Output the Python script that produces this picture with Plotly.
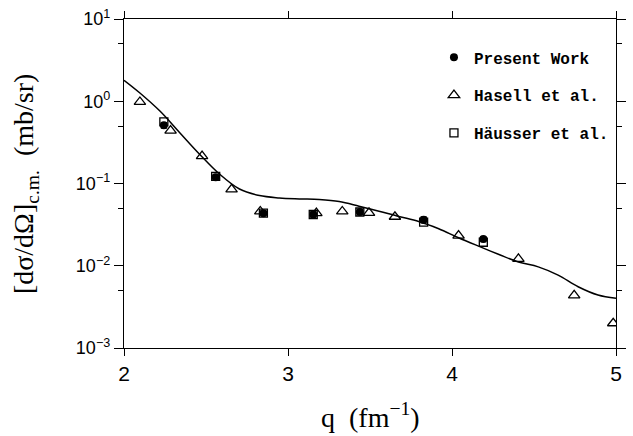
import plotly.graph_objects as go

# ---- data ----
q_present = [2.243, 2.559, 2.850, 3.154, 3.438, 3.827, 4.191]
xs_present = [0.51, 0.119, 0.0436, 0.042, 0.045, 0.0362, 0.0211]
err_present = [0.04, 0.01, 0.003, 0.003, 0.003, 0.003, 0.0015]

q_hasell = [2.097, 2.284, 2.476, 2.656, 2.831, 3.173, 3.331, 3.494, 3.652,
            4.040, 4.405, 4.745, 4.983]
xs_hasell = [0.98, 0.44, 0.215, 0.085, 0.0457, 0.0436, 0.0457, 0.044, 0.0394,
             0.0232, 0.0121, 0.00437, 0.0020]

q_hausser = [2.243, 2.559, 2.850, 3.154, 3.438, 3.827, 4.191]
xs_hausser = [0.56, 0.122, 0.0436, 0.042, 0.045, 0.034, 0.0193]

q_theory = [2.0, 2.097, 2.219, 2.340, 2.461, 2.583, 2.704, 2.826, 2.947, 3.069,
            3.190, 3.312, 3.433, 3.555, 3.676, 3.797, 3.919, 4.040, 4.162,
            4.283, 4.405, 4.526, 4.647, 4.769, 4.890, 5.0]
xs_theory = [1.80, 1.26, 0.76, 0.415, 0.227, 0.130, 0.0857, 0.0713, 0.0668, 0.065,
             0.0638, 0.0603, 0.053, 0.0461, 0.0397, 0.0346, 0.0282, 0.0219, 0.0173,
             0.0138, 0.0111, 0.0097, 0.0077, 0.00556, 0.00441, 0.00402]

x_ticks = [2, 3, 4, 5]
y_tickvals = [0.001, 0.01, 0.1, 1, 10]
y_ticktext = ["10<sup>\u22123</sup>", "10<sup>\u22122</sup>", "10<sup>\u22121</sup>",
              "10<sup>0</sup>", "10<sup>1</sup>"]
y_minor = [0.005, 0.05, 0.5, 5]

legend_names = ["Present Work", "Hasell et al.", "H\u00e4usser et al."]

fig = go.Figure()

fig.add_trace(go.Scatter(
    x=q_theory, y=xs_theory, mode="lines",
    line=dict(color="black", width=1.5, shape="spline", smoothing=1.0),
    showlegend=False, hoverinfo="skip"))

fig.add_trace(go.Scatter(
    x=q_hausser, y=xs_hausser, mode="markers", name=legend_names[2],
    marker=dict(symbol="square-open", size=8, color="black", line=dict(width=1.3)),
    legendgroup="c", legendrank=3))

fig.add_trace(go.Scatter(
    x=q_hasell, y=xs_hasell, mode="markers", name=legend_names[1],
    marker=dict(symbol="triangle-up-open", size=10, color="black", line=dict(width=1.3)),
    legendgroup="b", legendrank=2))

fig.add_trace(go.Scatter(
    x=q_present, y=xs_present, mode="markers", name=legend_names[0],
    marker=dict(symbol="circle", size=8, color="black"),
    error_y=dict(type="data", array=err_present, color="black", thickness=1.3, width=3),
    legendgroup="a", legendrank=1))

fig.update_layout(
    width=633, height=436,
    margin=dict(l=124, r=7, t=15, b=88),
    paper_bgcolor="white", plot_bgcolor="white",
    showlegend=True,
    legend=dict(x=0.63, y=0.935, xanchor="left", yanchor="top",
                font=dict(family="Liberation Mono", size=16, color="black", weight="bold"),
                tracegroupgap=14, bgcolor="rgba(0,0,0,0)", itemwidth=30,
                traceorder="grouped"),
    xaxis=dict(range=[2, 5], tickvals=x_ticks, ticks="outside", ticklen=7,
               tickwidth=1.3, tickcolor="black", showline=True, linecolor="black",
               linewidth=1.3, mirror="ticks", showgrid=False, zeroline=False,
               tickfont=dict(family="Liberation Sans", size=21, color="black")),
    yaxis=dict(type="log", range=[-3, 1], tickvals=y_tickvals, ticktext=y_ticktext,
               ticks="outside", ticklen=9, tickwidth=1.3, tickcolor="black",
               showline=True, linecolor="black", linewidth=1.3, mirror="ticks",
               showgrid=False, zeroline=False,
               tickfont=dict(family="Liberation Sans", size=18, color="black"),
               minor=dict(tickvals=y_minor, ticks="outside", ticklen=5,
                          tickwidth=1.3, tickcolor="black", showgrid=False)),
    annotations=[
        dict(text="q  (fm<sup>\u22121</sup>)", xref="paper", yref="paper",
             x=0.5, y=-0.205, xanchor="center", yanchor="middle", showarrow=False,
             font=dict(family="Liberation Serif", size=28, color="black")),
        dict(text="[d\u03c3/d\u03a9]<sub>c.m.</sub>  (mb/sr)", xref="paper", yref="paper",
             x=-0.2, y=0.5, xanchor="center", yanchor="middle", showarrow=False,
             textangle=-90,
             font=dict(family="Liberation Serif", size=28, color="black")),
    ],
)

fig.write_html("out.html")
